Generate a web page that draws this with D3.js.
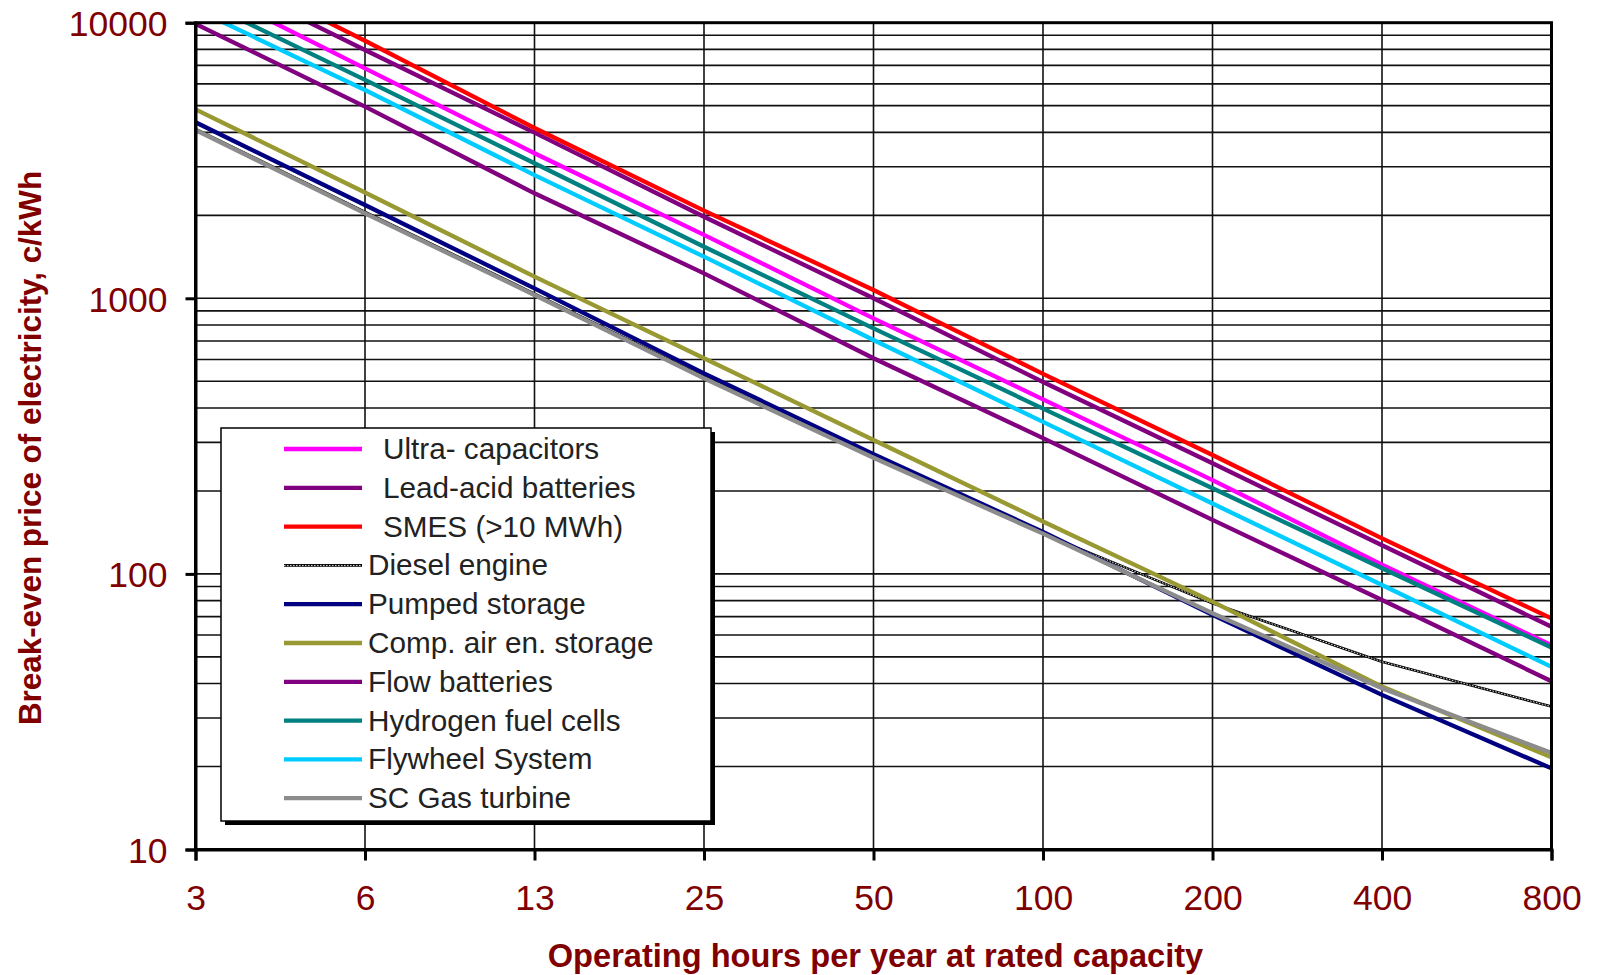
<!DOCTYPE html>
<html>
<head>
<meta charset="utf-8">
<script src="https://cdn.jsdelivr.net/npm/d3@7"></script>
<style>
  body { margin: 0; background: #fff; }
  svg { display: block; }
</style>
</head>
<body>
<div id="wrapper"></div>
<script>
// hours per year (category axis)
const hours = ["3", "6", "13", "25", "50", "100", "200", "400", "800"];

// break-even price, c/kWh
const ultraCaps   = [13900, 6830, 3360, 1698, 846, 430, 219, 108, 55.1];
const leadAcid    = [16000, 7960, 3990, 1977, 1000, 497, 252, 127, 64.3];
const smes        = [17500, 8600, 4150, 2080, 1072, 532, 270, 134.6, 69];
const diesel      = [4120, 2060, 1040, 520, 268, 140, 78.2, 48.0, 33.0];
const pumped      = [4351, 2180, 1087, 534, 272, 142, 71, 36.4, 19.7];
const compAir     = [4850, 2420, 1198, 606, 306, 155, 79.3, 39.0, 21.6];
const flowBatt    = [9900, 4960, 2404, 1232, 606, 311, 157, 80.4, 40.8];
const hydrogen    = [12300, 6200, 3090, 1539, 778, 398, 204.5, 104.8, 54.1];
const flywheel    = [11200, 5700, 2800, 1416, 706, 356, 180, 91.1, 46.0];
const gasTurbine  = [4080, 2034, 1028, 512, 264, 140, 72, 38.5, 22.4];

const seriesNames = ["Ultra- capacitors", "Lead-acid batteries", "SMES (>10 MWh)", "Diesel engine",
  "Pumped storage", "Comp. air en. storage", "Flow batteries", "Hydrogen fuel cells",
  "Flywheel System", "SC Gas turbine"];
const seriesValues = [ultraCaps, leadAcid, smes, diesel, pumped, compAir, flowBatt, hydrogen, flywheel, gasTurbine];
const seriesColors = ["#ff00ff", "#800080", "#ff0000", "#000000", "#000080", "#999933",
  "#800080", "#008080", "#00ccff", "#8c8c8c"];

const yTickLabels = [10, 100, 1000, 10000];

const dimension = {
  width: 1597,
  height: 975,
  margin: { top: 22.7, right: 45.5, bottom: 125.5, left: 195.5 }
};
dimension.boundedWidth = dimension.width - dimension.margin.left - dimension.margin.right;
dimension.boundedHeight = dimension.height - dimension.margin.top - dimension.margin.bottom;

const red = "#800000";

const svg = d3.select("#wrapper").append("svg")
  .attr("width", dimension.width)
  .attr("height", dimension.height)
  .style("font-family", "'Liberation Sans', Arial, sans-serif");

const bounds = svg.append("g")
  .attr("transform", `translate(${dimension.margin.left},${dimension.margin.top})`);

const x = d3.scalePoint().domain(hours).range([0, dimension.boundedWidth]);
const y = d3.scaleLog().domain([10, 10000]).range([dimension.boundedHeight, 0]);

svg.append("defs").append("clipPath").attr("id", "plotclip")
  .append("rect")
  .attr("width", dimension.boundedWidth)
  .attr("height", dimension.boundedHeight);

// horizontal grid (major + minor)
bounds.append("g")
  .selectAll("line")
  .data(y.ticks())
  .enter().append("line")
  .attr("x1", 0).attr("x2", dimension.boundedWidth)
  .attr("y1", d => y(d)).attr("y2", d => y(d))
  .attr("stroke", "#111").attr("stroke-width", 1.6);

// vertical grid
bounds.append("g")
  .selectAll("line")
  .data(hours)
  .enter().append("line")
  .attr("x1", d => x(d)).attr("x2", d => x(d))
  .attr("y1", 0).attr("y2", dimension.boundedHeight)
  .attr("stroke", "#111").attr("stroke-width", 1.6);

// series lines
const line = d3.line()
  .x((d, i) => x(hours[i]))
  .y(d => y(d));

const lines = bounds.append("g").attr("clip-path", "url(#plotclip)");
seriesValues.forEach((vals, i) => {
  if (seriesNames[i] === "Diesel engine") {
    lines.append("path").attr("d", line(vals))
      .attr("fill", "none").attr("stroke", "#000").attr("stroke-width", 2.6);
    lines.append("path").attr("d", line(vals))
      .attr("fill", "none").attr("stroke", "#fff").attr("stroke-width", 0.9)
      .attr("stroke-dasharray", "1.6 1.4");
  } else {
    lines.append("path").attr("d", line(vals))
      .attr("fill", "none").attr("stroke", seriesColors[i]).attr("stroke-width", 4.3);
  }
});

// plot frame
bounds.append("rect")
  .attr("width", dimension.boundedWidth)
  .attr("height", dimension.boundedHeight)
  .attr("fill", "none").attr("stroke", "#000").attr("stroke-width", 3);

// axes
const yAxis = bounds.append("g")
  .call(d3.axisLeft(y).tickValues(yTickLabels).tickFormat(d3.format("d")).tickSize(10).tickPadding(18));
yAxis.select(".domain").attr("stroke-width", 3);
yAxis.selectAll(".tick line").attr("stroke-width", 3);
yAxis.selectAll("text").attr("fill", red).style("font-size", "35.5px")
  .attr("dy", "0.36em");

const xAxis = bounds.append("g")
  .attr("transform", `translate(0,${dimension.boundedHeight})`)
  .call(d3.axisBottom(x).tickSize(11).tickPadding(24));
xAxis.select(".domain").attr("stroke-width", 3);
xAxis.selectAll(".tick line").attr("stroke-width", 3);
xAxis.selectAll("text").attr("fill", red).style("font-size", "35.5px");

// axis titles
svg.append("text")
  .attr("x", 875.5).attr("y", 967)
  .attr("text-anchor", "middle")
  .attr("fill", red)
  .style("font-size", "32.6px").style("font-weight", "bold")
  .text("Operating hours per year at rated capacity");

svg.append("text")
  .attr("transform", "translate(41,448) rotate(-90)")
  .attr("text-anchor", "middle")
  .attr("fill", red)
  .style("font-size", "31.4px").style("font-weight", "bold")
  .text("Break-even price of electricity, c/kWh");

// legend
const legend = svg.append("g").attr("transform", "translate(221,428)");
legend.append("rect")
  .attr("x", 4).attr("y", 4).attr("width", 490).attr("height", 393)
  .attr("fill", "#000");
legend.append("rect")
  .attr("width", 490).attr("height", 393)
  .attr("fill", "#fff").attr("stroke", "#000").attr("stroke-width", 1.5);

const rows = legend.selectAll("g.row")
  .data(seriesNames)
  .enter().append("g")
  .attr("class", "row")
  .attr("transform", (d, i) => `translate(0,${21 + i * 38.8})`);

rows.each(function (d, i) {
  const g = d3.select(this);
  if (d === "Diesel engine") {
    g.append("line").attr("x1", 63).attr("x2", 141).attr("y1", 0).attr("y2", 0)
      .attr("stroke", "#000").attr("stroke-width", 2.6);
    g.append("line").attr("x1", 63).attr("x2", 141).attr("y1", 0).attr("y2", 0)
      .attr("stroke", "#fff").attr("stroke-width", 0.9).attr("stroke-dasharray", "1.6 1.4");
  } else {
    g.append("line").attr("x1", 63).attr("x2", 141).attr("y1", 0).attr("y2", 0)
      .attr("stroke", seriesColors[i]).attr("stroke-width", 4.3);
  }
  g.append("text")
    .attr("x", i < 3 ? 162 : 147)
    .attr("y", 10)
    .attr("fill", "#222")
    .style("font-size", "29.7px")
    .text(d);
});
</script>
</body>
</html>
